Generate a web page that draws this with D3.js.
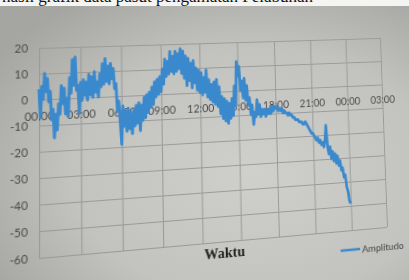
<!DOCTYPE html>
<html lang="id">
<head>
<meta charset="UTF-8">
<title>Amplitudo</title>
<script src="https://cdn.jsdelivr.net/npm/d3@7"></script>
<style>
  body { margin: 0; width: 409px; height: 280px; overflow: hidden; position: relative; }
  svg { position: absolute; left: 0; top: 0; }
  #chart { transform-origin: 0 0; filter: blur(0.4px); }
</style>
</head>
<body>
<svg id="paper" width="409" height="280"></svg>
<svg id="chart" width="409" height="280"></svg>
<script>
// y axis ticks and x axis (time) tick labels
const yTicks = [20, 10, 0, -10, -20, -30, -40, -50, -60]
const xTickLabels = ["00:00", "03:00", "06:00", "09:00", "12:00", "15:00", "18:00", "21:00", "00:00", "03:00"]
const seriesName = "Amplitudo"
const stepMinutes = 6   // one reading every 6 minutes from 00:00

// amplitudo readings, one row per hour
const amplitudo = [
  4, -7, 5, 0, 10, 3, 8, -1, 3, -8,            // 00
  -4, -15, -6, -12, -2, -6, 5, -2, 4, -6,      // 01
  0, -7, 8, 2, 15, 5, 16, 3, 5, -6,            // 02
  6, -1, 7, 1, 6, -1, 9, 1, 8, 0,              // 03
  10, 2, 6, 0, 9, 4, 13, 5, 15, 6,             // 04
  12, 5, 13, 7, 11, 3, 5, -6, -2, -10,         // 05
  -19, -4, -12, -6, -14, -5, -13, -7, -15, -6, // 06
  -12, -4, -11, -3, -14, -4, -10, -1, -9, 0,   // 07
  -7, 1, -5, 3, -4, 5, -1, 6, 0, 7,            // 08
  1, 10, 4, 14, 7, 13, 8, 17, 9, 15,           // 09
  8, 17, 9, 16, 10, 18, 8, 17, 6, 15,          // 10
  3, 14, 5, 12, 2, 13, 4, 10, 1, 9,            // 11
  0, 8, -1, 6, 0, 9, -2, 5, -3, 3,             // 12
  -4, 4, -5, 5, -6, 2, -9, -2, -11, -3,        // 13
  -12, -4, -13, -5, -11, -3, -10, 2, -6, 12,   // 14
  6, 10, 0, 4, -3, 5, -4, 2, -6, -3,           // 15
  -10, -6, -14, -9, -11, -4, -10, -6, -11, -8, // 16
  -10, -8, -11, -8, -10, -8, -10, -7, -9, -7,  // 17
  -8, -7, -9, -8, -9, -8, -10, -9, -10, -10,   // 18
  -11, -10, -11, -11, -12, -12, -13, -13, -13, -14, // 19
  -14, -14, -15, -15, -14, -15, -16, -17, -18, -19, // 20
  -19, -20, -21, -22, -21, -23, -22, -24, -23, -25, // 21
  -22, -16, -25, -28, -25, -30, -27, -31, -28, -32, // 22
  -29, -33, -31, -35, -34, -38, -37, -42, -44, -48, // 23
  -49
]

const t0 = new Date(2000, 0, 1, 0, 0)
const times = amplitudo.map((v, i) => d3.timeMinute.offset(t0, i * stepMinutes))
const xTicks = d3.timeHour.every(3).range(t0, d3.timeHour.offset(t0, 28))

// flat plot box, and where its corners sit in the photographed page
const plot = {left: 39, right: 384, top: 44, bottom: 244}
const quad = [[39, 48], [380, 38], [387, 227], [39, 258]]

// ---- paper background
const paper = d3.select("#paper")
const grad = paper.append("defs").append("radialGradient").attr("id", "bg")
    .attr("cx", 0.62).attr("cy", 0.62).attr("r", 0.75)
grad.append("stop").attr("offset", "0%").attr("stop-color", "#cfd0cc")
grad.append("stop").attr("offset", "60%").attr("stop-color", "#c2c3bf")
grad.append("stop").attr("offset", "100%").attr("stop-color", "#a5a6a1")
paper.append("rect").attr("width", 409).attr("height", 280).attr("fill", "url(#bg)")
paper.append("rect").attr("width", 409).attr("height", 6).attr("fill", "#f4f4f2")
// caption line of the page above the chart, mostly outside the photo
paper.append("text").attr("x", 2).attr("y", 1.5)
    .attr("font-family", "Liberation Serif").attr("font-size", 17).attr("fill", "#111")
    .text("hasil grafik data pasut pengamatan Pelabuhan")

// ---- chart
const svg = d3.select("#chart")
const x = d3.scaleTime().domain([t0, xTicks[xTicks.length - 1]]).range([plot.left, plot.right])
const y = d3.scaleLinear().domain([-60, 20]).range([plot.bottom, plot.top])

svg.append("g")
    .attr("transform", `translate(${plot.left},0)`)
    .call(d3.axisLeft(y).tickValues(yTicks).tickSize(-(plot.right - plot.left)).tickPadding(10).tickFormat(d => String(d)))
    .call(g => g.select(".domain").remove())
    .call(g => g.selectAll("line").attr("stroke", "#9a9b98"))
    .call(g => g.selectAll("text").attr("fill", "#4a4a4a").attr("font-size", 10.5).attr("font-family", "Lato"))

svg.append("g")
    .attr("transform", `translate(0,${plot.bottom})`)
    .call(d3.axisBottom(x).tickValues(xTicks).tickSize(-(plot.bottom - plot.top)).tickFormat(""))
    .call(g => g.select(".domain").remove())
    .call(g => g.selectAll("line").attr("stroke", "#9a9b98"))

svg.append("g")
    .attr("transform", `translate(0,${y(0)})`)
    .call(d3.axisBottom(x).tickValues(xTicks).tickSize(0).tickPadding(13).tickFormat((d, i) => xTickLabels[i]))
    .call(g => g.select(".domain").remove())
    .call(g => g.selectAll("text").attr("fill", "#4a4a4a").attr("font-size", 10.5).attr("font-family", "Lato"))

const line = d3.line().x((d, i) => x(times[i])).y(d => y(d))
svg.append("path")
    .datum(amplitudo)
    .attr("d", line)
    .attr("fill", "none")
    .attr("stroke", "#3a89cd")
    .attr("stroke-width", 2.8)
    .attr("stroke-linejoin", "round")

svg.append("text")
    .attr("x", 214).attr("y", plot.bottom + 16)
    .attr("text-anchor", "middle")
    .attr("font-family", "Liberation Serif").attr("font-weight", "bold").attr("font-size", 14)
    .attr("fill", "#222")
    .text("Waktu")

// legend
const legend = svg.append("g").attr("transform", `translate(333,${plot.bottom + 20})`)
legend.append("line").attr("x1", 0).attr("x2", 21).attr("stroke", "#3a89cd").attr("stroke-width", 2.5)
legend.append("text").attr("x", 23).attr("dy", "0.35em")
    .attr("font-family", "Lato").attr("font-size", 10).attr("fill", "#444")
    .text(seriesName)

// ---- map the flat plot box onto the photographed quadrilateral
function squareToQuad(q) {
  const [x0, y0] = q[0], [x1, y1] = q[1], [x2, y2] = q[2], [x3, y3] = q[3]
  const dx1 = x1 - x2, dx2 = x3 - x2, dx3 = x0 - x1 + x2 - x3
  const dy1 = y1 - y2, dy2 = y3 - y2, dy3 = y0 - y1 + y2 - y3
  const den = dx1 * dy2 - dx2 * dy1
  const g = (dx3 * dy2 - dx2 * dy3) / den
  const h = (dx1 * dy3 - dx3 * dy1) / den
  return {a: x1 - x0 + g * x1, b: x3 - x0 + h * x3, c: x0,
          d: y1 - y0 + g * y1, e: y3 - y0 + h * y3, f: y0, g: g, h: h}
}
const m = squareToQuad(quad)
const pw = plot.right - plot.left, ph = plot.bottom - plot.top
const A = m.a / pw, B = m.b / ph, C = m.c - m.a * plot.left / pw - m.b * plot.top / ph
const D = m.d / pw, E = m.e / ph, F = m.f - m.d * plot.left / pw - m.e * plot.top / ph
const G = m.g / pw, Hh = m.h / ph, K = 1 - m.g * plot.left / pw - m.h * plot.top / ph
d3.select("#chart").style("transform",
  `matrix3d(${[A, D, 0, G, B, E, 0, Hh, 0, 0, 1, 0, C, F, 0, K].join(",")})`)
</script>
</body>
</html>
